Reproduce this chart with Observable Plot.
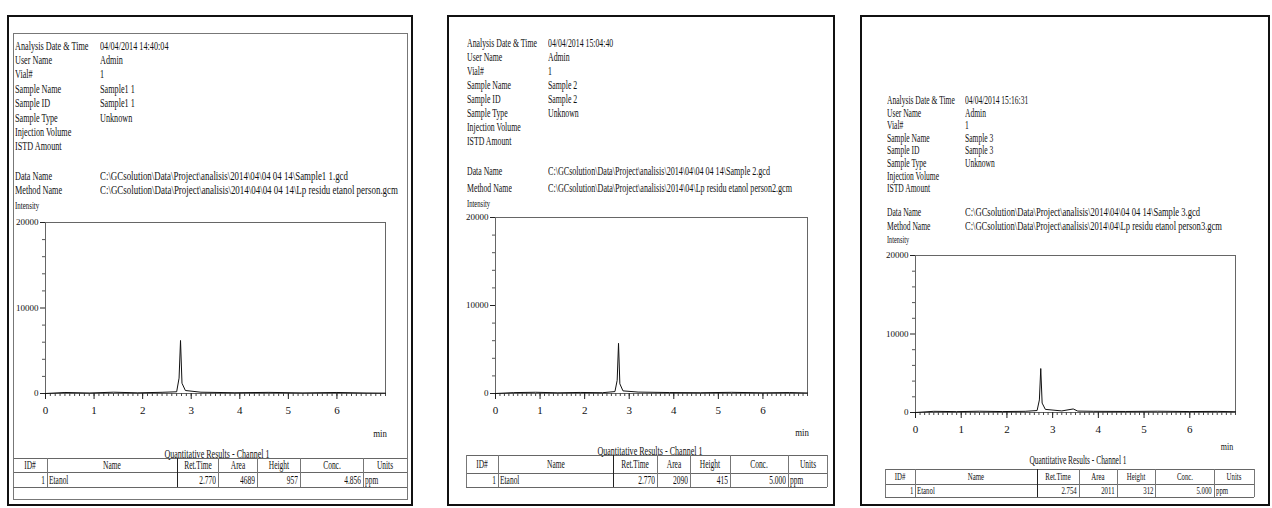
<!DOCTYPE html>
<html><head><meta charset="utf-8">
<script src="https://cdn.jsdelivr.net/npm/d3@7"></script>
<script src="https://cdn.jsdelivr.net/npm/@observablehq/plot@0.6"></script>
<style>
html,body{margin:0;padding:0;background:#fff;}
body{width:1272px;height:508px;overflow:hidden;position:relative;font-family:"Liberation Serif","DejaVu Serif",serif;color:#111;}
.t{position:absolute;white-space:nowrap;}
.ln{position:absolute;background:#555;}
.box{position:absolute;box-sizing:border-box;}
.chart{position:absolute;}
.chart text{font-family:"Liberation Serif",serif;}
</style>
</head><body>
<script>
// ---------- DATA ----------
const headerLabels = ["Analysis Date & Time","User Name","Vial#","Sample Name","Sample ID","Sample Type","Injection Volume","ISTD Amount"];
const fileLabels = ["Data Name","Method Name"];
const analysisTimes = ["04/04/2014 14:40:04","04/04/2014 15:04:40","04/04/2014 15:16:31"];
const userNames = ["Admin","Admin","Admin"];
const vials = ["1","1","1"];
const sampleNames = ["Sample1 1","Sample 2","Sample 3"];
const sampleIds = ["Sample1 1","Sample 2","Sample 3"];
const sampleTypes = ["Unknown","Unknown","Unknown"];
const dataNames = [
  "C:\\GCsolution\\Data\\Project\\analisis\\2014\\04\\04 04 14\\Sample1 1.gcd",
  "C:\\GCsolution\\Data\\Project\\analisis\\2014\\04\\04 04 14\\Sample 2.gcd",
  "C:\\GCsolution\\Data\\Project\\analisis\\2014\\04\\04 04 14\\Sample 3.gcd"
];
const methodNames = [
  "C:\\GCsolution\\Data\\Project\\analisis\\2014\\04\\04 04 14\\Lp residu etanol person.gcm",
  "C:\\GCsolution\\Data\\Project\\analisis\\2014\\04\\Lp residu etanol person2.gcm",
  "C:\\GCsolution\\Data\\Project\\analisis\\2014\\04\\Lp residu etanol person3.gcm"
];
const intensityLabel = "Intensity";
const timeUnit = "min";
const tableTitle = "Quantitative Results - Channel 1";
const tableColumns = ["ID#","Name","Ret.Time","Area","Height","Conc.","Units"];
const peakIds = ["1","1","1"];
const peakNames = ["Etanol","Etanol","Etanol"];
const retTimes = ["2.770","2.770","2.754"];
const areas = ["4689","2090","2011"];
const heights = ["957","415","312"];
const concs = ["4.856","5.000","5.000"];
const units = ["ppm","ppm","ppm"];
const xTicks = [0,1,2,3,4,5,6];
const xMinorTicks = d3.range(0, 70.5, 1).map(d => d / 10);
const yTicks = [0,10000,20000];
const yMinorTicks = [2000,4000,6000,8000,12000,14000,16000,18000];
const xDomain = [0,7];
const yDomain = [0,20000];
// chromatogram traces (time in min, intensity)
const time1 = [0,0.4,0.9,1.4,1.9,2.4,2.70,2.75,2.78,2.81,2.88,3.2,3.9,4.6,5.3,6.0,6.6,7.0];
const signal1 = [0,120,60,150,80,140,200,1800,6200,1200,350,150,90,130,70,120,60,40];
const time2 = [0,0.4,0.9,1.4,1.9,2.4,2.68,2.73,2.76,2.79,2.86,3.2,3.9,4.6,5.3,6.0,6.6,7.0];
const signal2 = [0,100,140,80,120,90,220,1500,5700,1100,300,160,110,90,130,80,110,60];
const time3 = [0,0.4,0.9,1.4,1.9,2.4,2.66,2.71,2.74,2.77,2.84,3.2,3.45,3.55,3.9,4.6,5.3,6.0,6.6,7.0];
const signal3 = [0,150,110,160,120,150,250,1600,5600,1200,400,200,450,180,150,130,160,120,140,100];
const times = [time1,time2,time3];
const signals = [signal1,signal2,signal3];

// ---------- LAYOUT ----------
const panels = [
  {frame:[7,15,413,506], inner:[13,33,408,500], lx:15, vx:100, y0:45, step:14.4, dataY:175, methY:189, intY:205,
   font:13, sx:0.63, dataW:248, methW:298,
   plot:{x0:45,x1:385,y0:222,y1:393}, minX:380, minY:433,
   tTitle:[217,453], cols:[13,47,177,218,257,300,363,407], rows:[458,472,487]},
  {frame:[447,15,835,506], inner:null, lx:467, vx:548, y0:42, step:14.1, dataY:170, methY:187, intY:203,
   font:13, sx:0.6, dataW:222, methW:244,
   plot:{x0:495,x1:807,y0:217,y1:393}, minX:802, minY:432,
   tTitle:[650,450], cols:[466,498,613,657,690,730,788,827], rows:[455,473,487]},
  {frame:[860,15,1270,506], inner:null, lx:887, vx:965, y0:100, step:12.6, dataY:212, methY:226, intY:240,
   font:12, sx:0.63, dataW:235, methW:257,
   plot:{x0:915,x1:1235,y0:255,y1:412}, minX:1227, minY:447,
   tTitle:[1078,460], cols:[885,915,1037,1079,1117,1155,1214,1254], rows:[469,484,497]}
];

function txt(x, y, s, size, sx, anchor="start", fitW=null) {
  const d = document.createElement("div");
  d.className = "t";
  d.textContent = s;
  d.style.fontSize = size + "px";
  d.style.lineHeight = size + "px";
  d.style.top = (y - size/2) + "px";
  document.body.appendChild(d);
  let k = sx;
  if (fitW) { const w = d.getBoundingClientRect().width; k = fitW / w; }
  if (anchor === "start") { d.style.left = x + "px"; d.style.transformOrigin = "0 50%"; d.style.transform = `scaleX(${k})`; }
  else if (anchor === "end") { d.style.right = (1272 - x) + "px"; d.style.transformOrigin = "100% 50%"; d.style.transform = `scaleX(${k})`; }
  else { d.style.left = x + "px"; d.style.transformOrigin = "50% 50%"; d.style.transform = `translateX(-50%) scaleX(${k})`; }
  return d;
}
function hline(x0, x1, y, c="#555", w=1) { const d=document.createElement("div"); d.className="ln"; d.style.left=x0+"px"; d.style.top=y+"px"; d.style.width=(x1-x0)+"px"; d.style.height=w+"px"; d.style.background=c; document.body.appendChild(d); }
function vline(x, y0, y1, c="#555", w=1) { const d=document.createElement("div"); d.className="ln"; d.style.left=x+"px"; d.style.top=y0+"px"; d.style.width=w+"px"; d.style.height=(y1-y0)+"px"; d.style.background=c; document.body.appendChild(d); }
function rect(r, border) { const d=document.createElement("div"); d.className="box"; d.style.left=r[0]+"px"; d.style.top=r[1]+"px"; d.style.width=(r[2]-r[0])+"px"; d.style.height=(r[3]-r[1])+"px"; d.style.border=border; document.body.appendChild(d); }

panels.forEach((p, i) => {
  rect(p.frame, "2px solid #111");
  if (p.inner) rect(p.inner, "1px solid #777");
  const vals = [analysisTimes[i], userNames[i], vials[i], sampleNames[i], sampleIds[i], sampleTypes[i], "", ""];
  headerLabels.forEach((lab, j) => {
    txt(p.lx, p.y0 + j*p.step, lab, p.font, p.sx);
    if (vals[j]) txt(p.vx, p.y0 + j*p.step, vals[j], p.font, p.sx);
  });
  txt(p.lx, p.dataY, fileLabels[0], p.font, p.sx);
  txt(p.lx, p.methY, fileLabels[1], p.font, p.sx);
  txt(p.vx, p.dataY, dataNames[i], p.font, p.sx, "start", p.dataW);
  txt(p.vx, p.methY, methodNames[i], p.font, p.sx, "start", p.methW);
  txt(p.lx, p.intY, intensityLabel, p.font - 2, p.sx);
  txt(p.minX, p.minY, timeUnit, p.font - 2, 0.8, "middle");

  // chart
  const ml=34, mr=8, mt=8, mb=30;
  const pw = p.plot.x1 - p.plot.x0, ph = p.plot.y1 - p.plot.y0;
  const data = times[i].map((t, k) => ({t, v: signals[i][k]}));
  const chart = Plot.plot({
    width: ml + pw + mr, height: mt + ph + mb,
    marginLeft: ml, marginRight: mr, marginTop: mt, marginBottom: mb,
    x: {domain: xDomain, label: null},
    y: {domain: yDomain, label: null},
    style: {fontFamily: "'Liberation Serif', serif", fontSize: "9px", color: "#111", background: "transparent", overflow: "visible"},
    marks: [
      Plot.frame({stroke: "#666", strokeWidth: 1}),
      Plot.axisX({ticks: xMinorTicks, tickSize: 3, tickFormat: () => "", stroke: "#444"}),
      Plot.axisX({ticks: xTicks, tickSize: 6, tickPadding: 7, tickFormat: d => String(d), fontSize: 11, stroke: "#222"}),
      Plot.axisY({ticks: yMinorTicks, tickSize: 3, tickFormat: () => "", stroke: "#555"}),
      Plot.axisY({ticks: yTicks, tickSize: 5, tickPadding: 2, tickFormat: d3.format("d"), fontSize: 9, stroke: "#222"}),
      Plot.line(data, {x: "t", y: "v", stroke: "#111", strokeWidth: 1})
    ]
  });
  chart.classList.add("chart");
  chart.style.left = (p.plot.x0 - ml) + "px";
  chart.style.top = (p.plot.y0 - mt) + "px";
  document.body.appendChild(chart);

  // table
  txt(p.tTitle[0], p.tTitle[1], tableTitle, p.font, 0.62, "middle");
  const c = p.cols, r = p.rows;
  r.forEach(y => hline(c[0], c[c.length-1], y, "#666"));
  c.forEach((x, k) => vline(x, r[0], r[2], k === 2 ? "#222" : "#777"));
  const hy = (r[0] + r[1]) / 2, dy = (r[1] + r[2]) / 2;
  tableColumns.forEach((col, k) => txt((c[k] + c[k+1]) / 2, hy, col, p.font - 1, 0.62, "middle"));
  const row = [peakIds[i], peakNames[i], retTimes[i], areas[i], heights[i], concs[i], units[i]];
  const fs = p.font - 1;
  txt(c[1] - 2, dy, row[0], fs, 0.62, "end");
  txt(c[1] + 2, dy, row[1], fs, 0.62, "start");
  [2,3,4,5].forEach(k => txt(c[k+1] - 2, dy, row[k], fs, 0.62, "end"));
  txt(c[6] + 2, dy, row[6], fs, 0.62, "start");
});
</script>
</body></html>
